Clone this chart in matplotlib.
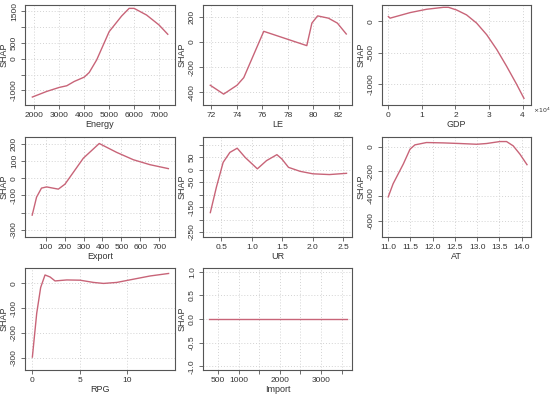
import matplotlib
matplotlib.use("Agg")
import matplotlib.pyplot as plt

plt.rcParams['font.family'] = ['Liberation Sans', 'DejaVu Sans']

line_col = '#c86478'
frame_col = '#555555'
text_col = '#333333'

# --- data ---
energy_x = [1920, 2500, 3000, 3300, 3600, 4000, 4200, 4500, 5000, 5500, 5800, 6000, 6500, 7000, 7350]
energy_shap = [-1209, -1031, -906, -854, -718, -582, -436, -38, 851, 1343, 1584, 1584, 1374, 1061, 768]

le_x = [71.92, 72.97, 74.02, 74.55, 76.12, 79.5, 79.9, 80.35, 81.2, 81.9, 82.6]
le_shap = [-343, -413, -343, -283, 83, -30, 148, 205, 187, 148, 62]

gdp_x = [0.0, 0.05, 0.65, 1.14, 1.64, 1.79, 2.03, 2.33, 2.63, 2.93, 3.23, 3.52, 3.82, 4.04]
gdp_shap = [79, 53, 142, 195, 226, 226, 184, 105, -26, -211, -447, -711, -1000, -1226]

export_x = [29, 52, 78, 105, 167, 202, 299, 383, 475, 563, 651, 748]
export_shap = [-215, -110, -57, -50, -63, -34, 118, 204, 152, 109, 80, 57]

ur_x = [0.32, 0.42, 0.53, 0.64, 0.76, 0.89, 1.09, 1.24, 1.41, 1.49, 1.6, 1.79, 2.0, 2.27, 2.55]
ur_shap = [-172, -69, 30, 70, 87, 50, 4, 37, 61, 44, 10, -6, -16, -19, -14]

at_x = [11.0, 11.11, 11.34, 11.49, 11.6, 11.86, 12.24, 12.61, 12.99, 13.21, 13.51, 13.66, 13.81, 13.96, 14.12]
at_shap = [-407, -300, -139, -19, 16, 35, 32, 27, 21, 27, 43, 43, 8, -59, -145]

rpg_x = [0, 0.46, 0.88, 1.34, 1.87, 2.4, 3.64, 5.05, 6.47, 7.53, 8.94, 10.7, 12.47, 14.42]
rpg_shap = [-297, -121, -17, 33, 25, 9, 13, 12, 3, -1, 3, 16, 29, 39]

import_x = [290, 3620]
import_shap = [0, 0]

panels = [
    dict(name='Energy', x=energy_x, y=energy_shap, xlim=(1625, 7640), ylim=(-1460, 1690),
         xt=[2000, 3000, 4000, 5000, 6000, 7000], xl=None,
         yt=[-1000, -500, 0, 500, 1000, 1500], yl=['-1000', '', '0', '500', '', '1500']),
    dict(name='LE', x=le_x, y=le_shap, xlim=(71.35, 83.05), ylim=(-499, 291),
         xt=[72, 74, 76, 78, 80, 82], xl=None,
         yt=[-400, -200, 0, 200], yl=None),
    dict(name='GDP', x=gdp_x, y=gdp_shap, xlim=(-0.19, 4.25), ylim=(-1332, 263),
         xt=[0, 1, 2, 3, 4], xl=None,
         yt=[-1000, -500, 0], yl=None),
    dict(name='Export', x=export_x, y=export_shap, xlim=(-9, 783), ylim=(-343, 242),
         xt=[100, 200, 300, 400, 500, 600, 700], xl=None,
         yt=[-300, -200, -100, 0, 100, 200], yl=['-300', '', '-100', '0', '100', '200']),
    dict(name='UR', x=ur_x, y=ur_shap, xlim=(0.2, 2.64), ylim=(-270, 132),
         xt=[0.5, 1.0, 1.5, 2.0, 2.5], xl=['0.5', '1.0', '1.5', '2.0', '2.5'],
         yt=[-250, -200, -150, -100, -50, 0, 50, 100],
         yl=['-250', '', '-150', '', '-50', '0', '50', '']),
    dict(name='AT', x=at_x, y=at_shap, xlim=(10.86, 14.21), ylim=(-733, 80),
         xt=[11.0, 11.5, 12.0, 12.5, 13.0, 13.5, 14.0],
         xl=['11.0', '11.5', '12.0', '12.5', '13.0', '13.5', '14.0'],
         yt=[-600, -400, -200, 0], yl=None),
    dict(name='RPG', x=rpg_x, y=rpg_shap, xlim=(-0.78, 15.1), ylim=(-349, 61),
         xt=[0, 5, 10], xl=None,
         yt=[-300, -200, -100, 0], yl=None),
    dict(name='Import', x=import_x, y=import_shap, xlim=(140, 3748), ylim=(-1.08, 1.08),
         xt=[500, 1000, 1500, 2000, 2500, 3000, 3500],
         xl=['500', '1000', '', '2000', '', '3000', ''],
         yt=[-1.0, -0.5, 0.0, 0.5, 1.0], yl=['-1.0', '-0.5', '0.0', '0.5', '1.0']),
]

W, H = 550, 395
cols = [(25, 175), (203, 352), (382, 531)]
rows = [(5, 105), (137, 237), (268, 370)]

fig = plt.figure(figsize=(W / 100, H / 100), dpi=100)

for i, p in enumerate(panels):
    x0, x1 = cols[i % 3]
    y0, y1 = rows[i // 3]
    ax = fig.add_axes([x0 / W, 1 - y1 / H, (x1 - x0) / W, (y1 - y0) / H])
    ax.set_xlim(*p['xlim'])
    ax.set_ylim(*p['ylim'])
    ax.set_xticks(p['xt'])
    if p['xl'] is not None:
        ax.set_xticklabels(p['xl'])
    ax.set_yticks(p['yt'])
    if p['yl'] is not None:
        ax.set_yticklabels(p['yl'])
    else:
        ax.set_yticklabels([('%g' % v) for v in p['yt']])
    for lab in ax.get_yticklabels():
        lab.set_rotation(90)
        lab.set_va('center')
    ax.grid(True, linestyle=(0, (1, 2)), color='#d3d3d3', linewidth=0.7)
    ax.plot(p['x'], p['y'], color=line_col, lw=1.0)
    for s in ax.spines.values():
        s.set_color(frame_col)
        s.set_linewidth(0.8)
    ax.tick_params(length=3, width=0.6, color=frame_col, labelsize=6,
                   labelcolor=text_col, pad=2)
    ax.set_xlabel(p['name'], fontsize=6.5, color=text_col, labelpad=1)
    ax.set_ylabel('SHAP', fontsize=6.5, color=text_col, labelpad=2)
    if p['name'] == 'GDP':
        ax.text(1.015, -0.05, r'$\times10^4$', transform=ax.transAxes,
                fontsize=4.5, color=text_col, ha='left', va='center')

fig.savefig('out.png', dpi=100, facecolor='white')
